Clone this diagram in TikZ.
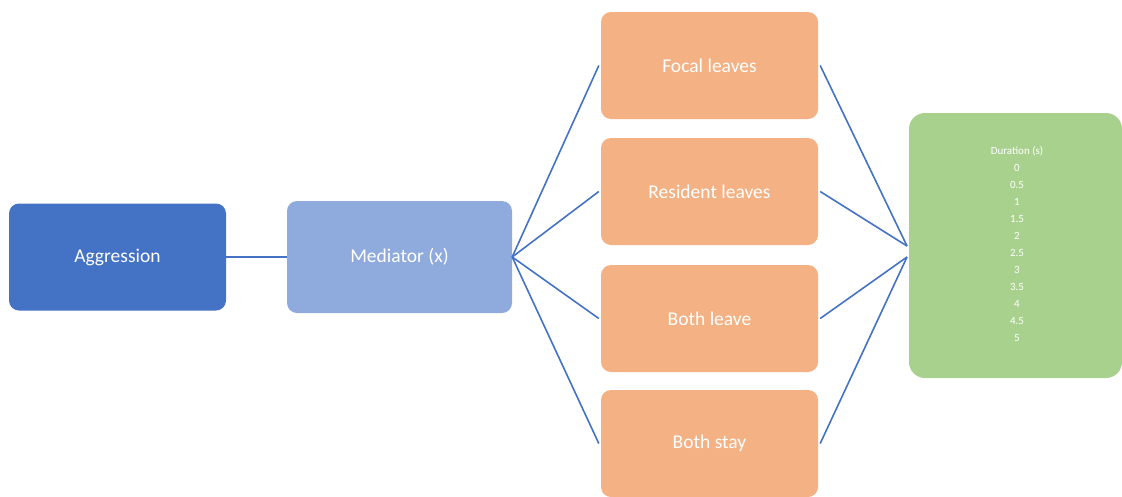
\documentclass[tikz,border=0pt]{standalone}
\usepackage{fontspec}
\setmainfont{Carlito}
\definecolor{aggblue}{HTML}{4472C4}
\definecolor{medblue}{HTML}{8FAADC}
\definecolor{orangebox}{HTML}{F4B183}
\definecolor{greenbox}{HTML}{A9D18E}
\definecolor{linkblue}{HTML}{4472C4}
\begin{document}
\begin{tikzpicture}[x=1pt,y=-1pt,
  boxbase/.style={rectangle, rounded corners=10pt, draw=none, text=white, inner sep=0pt,
    font=\fontsize{19.5}{23}\selectfont},
  aggbox/.style={boxbase, fill=aggblue, minimum width=217pt, minimum height=107pt},
  medbox/.style={boxbase, fill=medblue, minimum width=225pt, minimum height=112pt},
  outbox/.style={boxbase, fill=orangebox, minimum width=217pt, minimum height=107pt},
  durbox/.style={boxbase, fill=greenbox, minimum width=213pt, minimum height=265pt, rounded corners=16pt},
  durtxt/.style={text=white, align=center, font=\fontsize{11}{17}\selectfont, inner sep=0pt},
  link/.style={draw=linkblue, line width=1.6pt}
]
\useasboundingbox (0,0) rectangle (1122,496);
\node[aggbox] (agg) at (117.5,257) {Aggression};
\node[medbox] (med) at (399.5,257) {Mediator (x)};
\node[outbox] (focal) at (709.5,65.5) {Focal leaves};
\node[outbox] (resident) at (709.5,191.5) {Resident leaves};
\node[outbox] (bothleave) at (709.5,318.5) {Both leave};
\node[outbox] (bothstay) at (709.5,443.5) {Both stay};
\node[durbox] (dur) at (1015.5,245.5) {};
\node[durtxt, anchor=north] (durtext) at (1017,146)
  {Duration (s)\\0\\0.5\\1\\1.5\\2\\2.5\\3\\3.5\\4\\4.5\\5};
\coordinate (g1) at (907,246);
\coordinate (g2) at (907,257);
\draw[link] (agg.east) -- (med.west);
\draw[link] (med.east) -- ([xshift=-2pt]focal.west);
\draw[link] (med.east) -- ([xshift=-2pt]resident.west);
\draw[link] (med.east) -- ([xshift=-2pt]bothleave.west);
\draw[link] (med.east) -- ([xshift=-2pt]bothstay.west);
\draw[link] ([xshift=2pt]focal.east) -- (g1);
\draw[link] ([xshift=2pt]resident.east) -- (g1);
\draw[link] ([xshift=2pt]bothleave.east) -- (g2);
\draw[link] ([xshift=2pt]bothstay.east) -- (g2);
\end{tikzpicture}
\end{document}
